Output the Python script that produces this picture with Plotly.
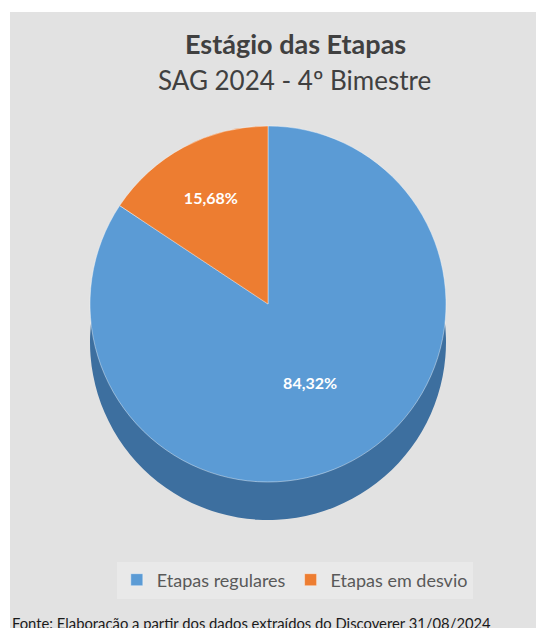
import plotly.graph_objects as go

labels = ["Etapas regulares", "Etapas em desvio"]
values = [84.32, 15.68]
top_colors = ["#5b9bd5", "#ed7d31"]
side_colors = ["#3d6f9f", "#b45a1e"]

title_main = "Estágio das Etapas"
title_sub = "SAG 2024 - 4º Bimestre"
footer = "Fonte: Elaboração a partir dos dados extraídos do Discoverer 31/08/2024"

W, H = 536, 628
FONT = "Lato"

def py(px):
    return 1 - px / H

def px_x(px):
    return px / W

cx, cy, r, depth = 268, 304, 178, 38

fig = go.Figure()
# 3D side (darker pie, shifted down)
fig.add_trace(go.Pie(
    labels=labels, values=values, sort=False, direction="clockwise", rotation=0,
    marker=dict(colors=side_colors, line=dict(width=0)),
    textinfo="none", hoverinfo="skip", showlegend=False,
    domain=dict(x=[px_x(cx - r), px_x(cx + r)], y=[py(cy + depth + r), py(cy + depth - r)]),
))
# top surface
fig.add_trace(go.Pie(
    labels=labels, values=values, sort=False, direction="clockwise", rotation=0,
    marker=dict(colors=top_colors, line=dict(color="rgba(255,255,255,0.5)", width=0.8)),
    texttemplate="<b>%{percent:.2%}</b>", textposition="inside",
    insidetextorientation="horizontal",
    insidetextfont=dict(color="white", size=16, family=FONT),
    domain=dict(x=[px_x(cx - r), px_x(cx + r)], y=[py(cy + r), py(cy - r)]),
))

fig.update_layout(
    width=W, height=H,
    margin=dict(l=0, r=0, t=0, b=0),
    paper_bgcolor="white",
    separators=",.",
    showlegend=True,
    legend=dict(
        orientation="h", x=0.55, xanchor="center", y=py(580), yanchor="middle",
        bgcolor="#e9e9e9", font=dict(size=18, color="#595959", family=FONT),
        traceorder="normal", itemwidth=30,
    ),
    shapes=[dict(type="rect", xref="paper", yref="paper", x0=px_x(10), x1=1,
                 y0=0, y1=py(12), fillcolor="#e2e2e2", line=dict(width=0), layer="below")],
    annotations=[
        dict(text="<b>" + title_main + "</b>", x=px_x(295), y=py(44), xref="paper", yref="paper",
             xanchor="center", yanchor="middle", showarrow=False,
             font=dict(size=27, color="#404040", family=FONT)),
        dict(text=title_sub, x=px_x(294), y=py(80), xref="paper", yref="paper",
             xanchor="center", yanchor="middle", showarrow=False,
             font=dict(size=26, color="#404040", family=FONT)),
        dict(text=footer, x=px_x(10), y=py(612), xref="paper", yref="paper",
             xanchor="left", yanchor="top", showarrow=False,
             font=dict(size=14.8, color="#1a1a1a", family=FONT)),
    ],
)

fig.write_html("out.html", config={"displayModeBar": False},
               post_script="document.body.style.margin='0';document.body.style.padding='0';")
